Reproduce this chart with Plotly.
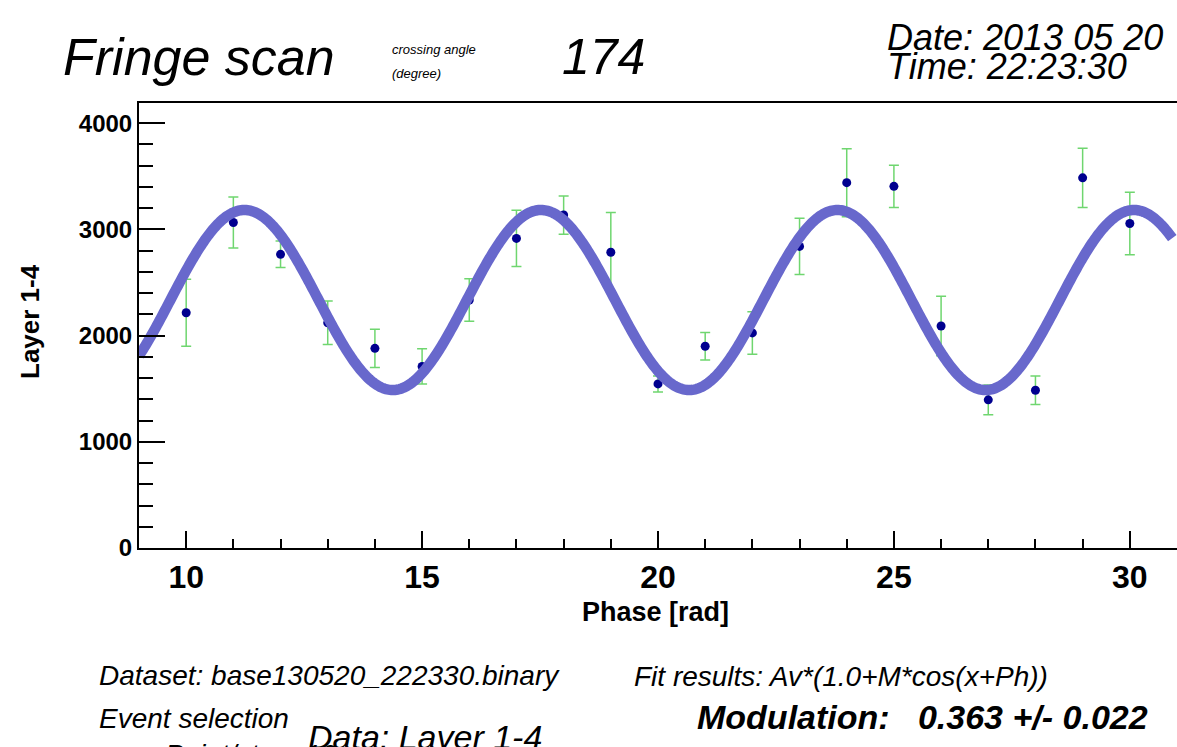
import numpy as np
import plotly.graph_objects as go

# ---- data ----
phase = [10, 11, 12, 13, 14, 15, 16, 17, 18, 19, 20, 21, 22, 23, 24, 25, 26, 27, 28, 29, 30]
counts = [2215, 3065, 2765, 2120, 1880, 1710, 2335, 2915, 3135, 2785, 1545, 1900,
          2025, 2840, 3440, 3405, 2090, 1395, 1485, 3485, 3055]
errors = [315, 240, 125, 205, 180, 165, 200, 265, 180, 375, 75, 130,
          200, 265, 320, 200, 280, 140, 135, 280, 295]

# fit parameters: Av*(1.0+M*cos(x+Ph))
fit_av = 2335.0
fit_mod = 0.363
fit_ph = 1.33
fit_xmin, fit_xmax = 9.0, 30.9

x_range = [9, 31]
y_range = [0, 4190]

W, H = 1177, 747
L, T, R, B = 139, 103, 0, 199
PW = W - L - R
PH = H - T - B

FONT = "Liberation Sans, Arial, Helvetica, sans-serif"

xfit = np.linspace(fit_xmin, fit_xmax, 800)
yfit = fit_av * (1.0 + fit_mod * np.cos(xfit + fit_ph))

fig = go.Figure()
fig.add_trace(go.Scatter(
    x=phase, y=counts, mode="markers",
    marker=dict(color="#00008f", size=9),
    error_y=dict(type="data", array=errors, visible=True,
                 color="#6fd66f", thickness=1.5, width=5),
    showlegend=False,
))
fig.add_trace(go.Scatter(
    x=xfit, y=yfit, mode="lines",
    line=dict(color="#6868cc", width=10.5, simplify=False),
    showlegend=False,
))


def px(xp):
    return (xp - L) / PW


def py(yp):
    return (T + PH - yp) / PH


def note(text, x, y, size, xanchor="left", yanchor="middle", angle=0, color="black"):
    fig.add_annotation(
        text=text, x=px(x), y=py(y), xref="paper", yref="paper",
        xanchor=xanchor, yanchor=yanchor, showarrow=False, textangle=angle,
        font=dict(family=FONT, size=size, color=color),
    )


note("<i>Fringe scan</i>", 61, 57, 52)
note("<i>crossing angle</i>", 390, 49, 13)
note("<i>(degree)</i>", 390, 74, 13)
note("<i>174</i>", 560, 57, 50)
note("<i>Date: 2013 05 20</i>", 885, 37, 36)
note("<i>Time: 22:23:30</i>", 885, 66, 36)

note("<b>Layer 1-4</b>", 30, 322, 26, xanchor="center", angle=-90)
note("<b>Phase [rad]</b>", 655, 612, 27, xanchor="center")

note("<i>Dataset: base130520_222330.binary</i>", 97, 675, 28)
note("<i>Event selection</i>", 97, 718, 28)
note("<i>Point/step: 10</i>", 163, 737, 28, yanchor="top")
note("<i>Data: Layer 1-4</i>", 306, 737, 34)
note("<i>Fit results: Av*(1.0+M*cos(x+Ph))</i>", 632, 676, 28)
note("<b><i>Modulation:\u00a0\u00a0 0.363 +/- 0.022</i></b>", 695, 717, 34)

fig.update_layout(
    width=W, height=H,
    margin=dict(l=L, r=R, t=T, b=B, pad=0),
    paper_bgcolor="white", plot_bgcolor="white",
    font=dict(family=FONT, color="black"),
    xaxis=dict(
        range=x_range, showgrid=False, zeroline=False,
        showline=True, linecolor="black", linewidth=2, mirror=True,
        ticks="inside", ticklen=17, tickwidth=2, tickcolor="black",
        tick0=0, dtick=5,
        tickfont=dict(family=FONT, size=32, color="black", weight="bold"),
        minor=dict(ticks="inside", ticklen=9, tickwidth=2, tickcolor="black", dtick=1, showgrid=False),
    ),
    yaxis=dict(
        range=y_range, showgrid=False, zeroline=False,
        showline=True, linecolor="black", linewidth=2,
        ticks="inside", ticklen=26, tickwidth=2, tickcolor="black",
        tick0=0, dtick=1000,
        tickfont=dict(family=FONT, size=24, color="black", weight="bold"),
        minor=dict(ticks="inside", ticklen=14, tickwidth=2, tickcolor="black", dtick=200, showgrid=False),
    ),
)

fig.write_html("out.html")
